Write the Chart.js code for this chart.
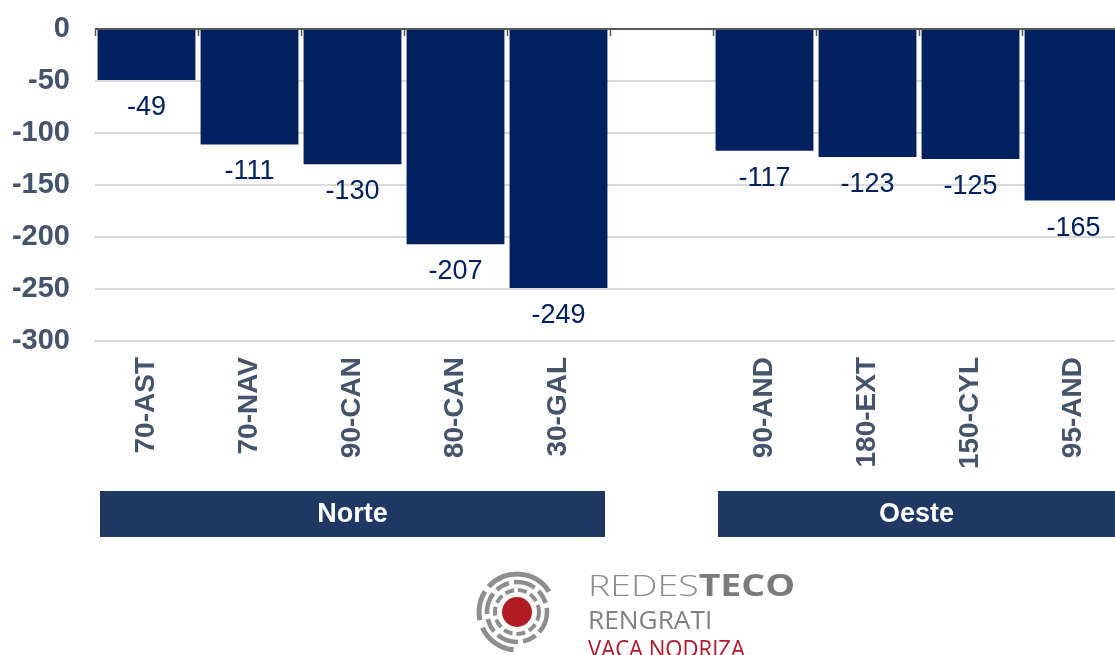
<!DOCTYPE html>
<html>
<head>
<meta charset="utf-8">
<script src="https://cdn.jsdelivr.net/npm/chart.js@4/dist/chart.umd.min.js"></script>
<style>
  html, body { margin: 0; padding: 0; background: #fff; overflow: hidden; }
  #wrap { position: relative; width: 1125px; height: 655px; }
  #logo-icon { position: absolute; left: 470px; top: 565px; }
  .logo-txt { position: absolute; left: 588px; font-family: "Open Sans", sans-serif; white-space: nowrap; transform-origin: left top; }
</style>
</head>
<body>
<div id="wrap">
  <canvas id="barChart" width="1125" height="655"></canvas>

  <svg id="logo-icon" width="95" height="95" viewBox="0 0 95 95">
    <g fill="none" stroke="#8e8e8e" stroke-linecap="butt">
      <circle cx="47" cy="47" r="22" stroke-width="4" stroke-dasharray="9 4"/>
      <circle cx="47" cy="47" r="30" stroke-width="4.5" stroke-dasharray="22 5 14 5"/>
      <circle cx="47" cy="47" r="38" stroke-width="5" stroke-dasharray="40 8 30 6 70 85" transform="rotate(95 47 47)"/>
    </g>
    <circle cx="47" cy="47" r="15" fill="#b31b22"/>
  </svg>
  <div class="logo-txt" style="top:570px; font-size:30px; line-height:30px; color:#8c8c8c; transform:scaleX(1.25);"><span style="font-weight:300">REDES</span><span style="font-weight:700; color:#7b7b7b">TECO</span></div>
  <div class="logo-txt" style="top:607px; font-size:25px; line-height:25px; color:#808080; transform:scaleX(1.05);">RENGRATI</div>
  <div class="logo-txt" style="top:636px; font-size:24px; line-height:24px; color:#b0182a; transform:scaleX(0.92);">VACA NODRIZA</div>
</div>

<script>
// data
var categories = ['70-AST', '70-NAV', '90-CAN', '80-CAN', '30-GAL', '', '90-AND', '180-EXT', '150-CYL', '95-AND'];
var values = [-49, -111, -130, -207, -249, null, -117, -123, -125, -165];
var groupNames = ['Norte', 'Oeste'];
var groupFirst = [0, 6];
var groupLast = [4, 9];
var yMin = -300, yMax = 0, yStep = 50;

var navy = '#002060';
var slate = '#44546a';

// value labels, tick marks on the zero line and the group boxes
var extrasPlugin = {
  id: 'extras',
  afterDraw: function(chart) {
    var ctx = chart.ctx;
    var x = chart.scales.x, y = chart.scales.y;
    var slot = x.getPixelForValue(1) - x.getPixelForValue(0);
    var y0 = y.getPixelForValue(0);

    ctx.save();
    // little ticks
    ctx.strokeStyle = '#595959';
    ctx.lineWidth = 1.5;
    for (var i = 0; i <= categories.length; i++) {
      var tx = Math.round(x.getPixelForValue(i) - slot / 2) + 0.5;
      ctx.beginPath();
      ctx.moveTo(tx, y0);
      ctx.lineTo(tx, y0 + 7);
      ctx.stroke();
    }

    // bar values
    var meta = chart.getDatasetMeta(0);
    ctx.fillStyle = navy;
    ctx.font = '27px "Liberation Sans", Arial, sans-serif';
    ctx.textAlign = 'center';
    ctx.textBaseline = 'alphabetic';
    meta.data.forEach(function(bar, i) {
      if (values[i] == null) return;
      ctx.fillText(String(values[i]), bar.x, bar.y + 35);
    });

    // group boxes
    ctx.font = 'bold 27px "Liberation Sans", Arial, sans-serif';
    ctx.textBaseline = 'middle';
    for (var g = 0; g < groupNames.length; g++) {
      var left = x.getPixelForValue(groupFirst[g]) - slot / 2 + 5;
      var right = x.getPixelForValue(groupLast[g]) + slot / 2 - 5;
      ctx.fillStyle = '#203864';
      ctx.fillRect(left, 491, right - left, 46);
      ctx.fillStyle = '#ffffff';
      var cx = (left + Math.min(right, 1115)) / 2;
      ctx.fillText(groupNames[g], cx, 515);
    }
    ctx.restore();
  }
};

var ctx = document.getElementById('barChart').getContext('2d');
var chart = new Chart(ctx, {
  type: 'bar',
  data: {
    labels: categories,
    datasets: [{
      data: values,
      backgroundColor: navy,
      borderWidth: 0,
      categoryPercentage: 1.0,
      barPercentage: 0.95
    }]
  },
  options: {
    responsive: false,
    animation: false,
    layout: { padding: { top: 29, bottom: 180, left: 0, right: 0 } },
    plugins: {
      legend: { display: false },
      tooltip: { enabled: false }
    },
    scales: {
      x: {
        grid: { display: false },
        border: { display: false },
        ticks: {
          autoSkip: false,
          maxRotation: 90,
          minRotation: 90,
          padding: 8,
          color: slate,
          font: { family: '"Liberation Sans", Arial, sans-serif', size: 28, weight: 'bold' }
        },
        afterFit: function(s) { s.height = 134; }
      },
      y: {
        min: yMin,
        max: yMax,
        grid: {
          drawTicks: false,
          color: function(c) { return c.tick && c.tick.value === 0 ? '#595959' : '#d9d9d9'; },
          lineWidth: 2
        },
        border: { display: false },
        ticks: {
          stepSize: yStep,
          padding: 25,
          color: slate,
          font: { family: '"Liberation Sans", Arial, sans-serif', size: 29, weight: 'bold' }
        },
        afterFit: function(s) {
          s.width = 95;
          s.paddingTop = 0;
          s.paddingBottom = 0;
        }
      }
    }
  },
  plugins: [extrasPlugin]
});
</script>
</body>
</html>
